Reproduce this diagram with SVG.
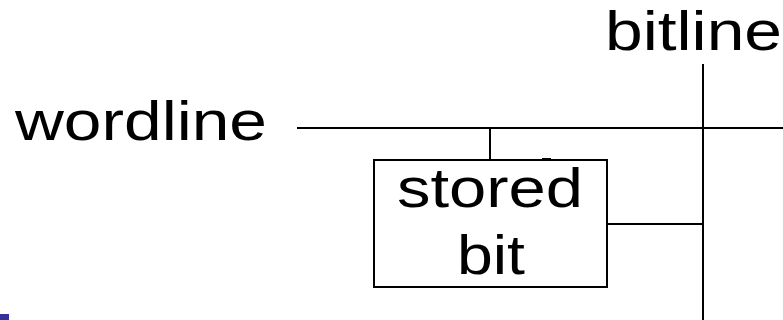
<svg xmlns="http://www.w3.org/2000/svg" width="783" height="320" viewBox="0 0 783 320">
<style>
.t{font-family:"Liberation Sans",Arial,sans-serif;font-size:56px;fill:#000}
.w{stroke:#000;stroke-width:2;fill:none}
</style>
<rect width="783" height="320" fill="#fff"/>
<g id="connectors">
<line class="w" x1="297" y1="128" x2="783" y2="128"/>
<line class="w" x1="703" y1="64" x2="703" y2="320"/>
<line class="w" x1="490" y1="128" x2="490" y2="160"/>
<line class="w" x1="607" y1="224" x2="703" y2="224"/>
</g>
<g id="wordline">
<text class="t" x="15" y="140" textLength="252" lengthAdjust="spacingAndGlyphs">wordline</text>
</g>
<g id="bitline">
<text class="t" x="605" y="50" textLength="177" lengthAdjust="spacingAndGlyphs">bitline</text>
</g>
<g id="stored-bit">
<rect class="w" x="374" y="160" width="233" height="127"/>
<rect x="542" y="158" width="9" height="2.5" fill="#000"/>
<text class="t" x="397" y="207" textLength="186" lengthAdjust="spacingAndGlyphs">stored</text>
<text class="t" x="457" y="274" textLength="68" lengthAdjust="spacingAndGlyphs">bit</text>
</g>
<rect x="0" y="314" width="9" height="6" fill="#33339a"/>
</svg>
